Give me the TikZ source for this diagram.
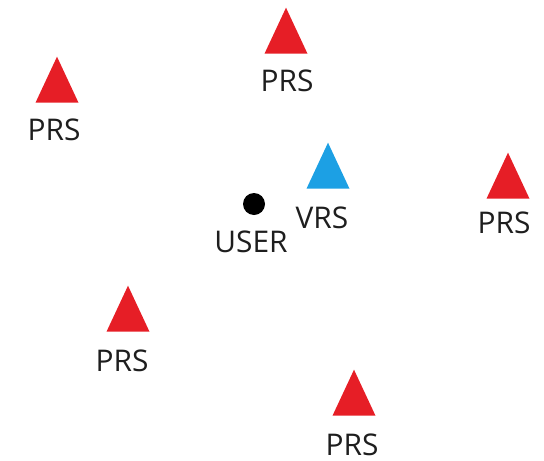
\documentclass[tikz,border=0pt]{standalone}
\usepackage{fontspec}
\setmainfont{Open Sans}
\usetikzlibrary{shapes.geometric}

\definecolor{prsred}{RGB}{230,30,38}
\definecolor{vrsblue}{RGB}{28,160,228}
\definecolor{labelgray}{RGB}{30,30,30}

\begin{document}
\begin{tikzpicture}[x=0.02cm, y=-0.02cm,
        station/.style={isosceles triangle, isosceles triangle stretches,
            shape border rotate=90, minimum width=43*0.02cm,
            minimum height=46*0.02cm, inner sep=0pt, draw=none},
        lbl/.style={text=labelgray, font=\fontsize{17}{20}\selectfont, inner sep=0pt}]
        \useasboundingbox (0, 0) rectangle (544, 460);

        % physical reference stations
        \node[station, fill=prsred] (prs1) at (286, 40) {};
        \node[station, fill=prsred] (prs2) at (57, 89) {};
        \node[station, fill=prsred] (prs3) at (508, 185) {};
        \node[station, fill=prsred] (prs4) at (128, 318) {};
        \node[station, fill=prsred] (prs5) at (354, 402) {};

        % virtual station and the user
        \node[station, fill=vrsblue] (vrs) at (328, 175) {};
        \node[circle, fill=black, inner sep=0pt, minimum size=22*0.02cm] (user) at (254, 204) {};

        \node[lbl] (prs1l) at (287, 81) {PRS};
        \node[lbl] (prs2l) at (54, 130) {PRS};
        \node[lbl] (prs3l) at (504, 223) {PRS};
        \node[lbl] (prs4l) at (122, 361) {PRS};
        \node[lbl] (prs5l) at (352, 445) {PRS};
        \node[lbl] (vrsl) at (322, 218) {VRS};
        \node[lbl] (userl) at (251, 242) {USER};
    \end{tikzpicture}
\end{document}
